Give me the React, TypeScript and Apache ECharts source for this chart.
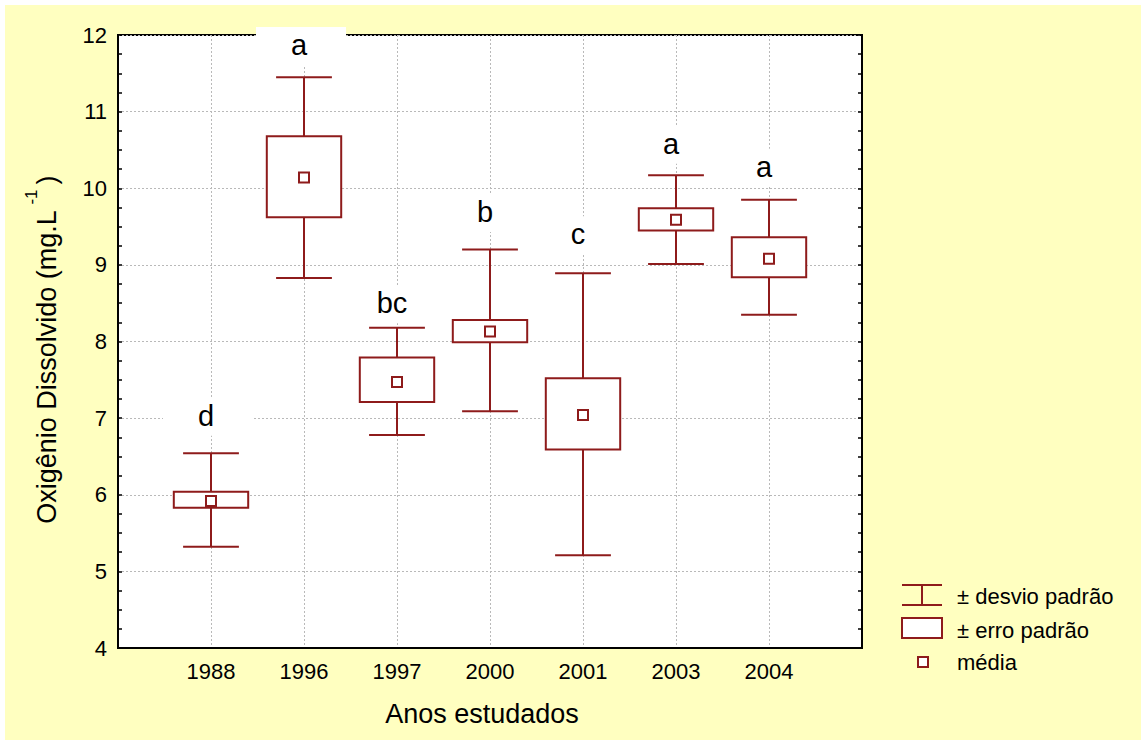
import React, { useEffect, useRef } from "react";
import * as echarts from "echarts";

// ---- data ----
const categories = ["1988", "1996", "1997", "2000", "2001", "2003", "2004"];
const means = [5.92, 10.14, 7.47, 8.13, 7.04, 9.59, 9.08];
const seLow = [5.83, 9.62, 7.21, 7.99, 6.59, 9.45, 8.84];
const seHigh = [6.04, 10.68, 7.79, 8.28, 7.52, 9.74, 9.36];
const sdLow = [5.32, 8.83, 6.78, 7.09, 5.21, 9.01, 8.35];
const sdHigh = [6.54, 11.45, 8.18, 9.2, 8.89, 10.17, 9.85];
const groupLetters = ["d", "a", "bc", "b", "c", "a", "a"];
const letterLevels = [7.03, 11.87, 8.5, 9.69, 9.4, 10.58, 10.28];
const yMin = 4;
const yMax = 12;
const legendLabels = ["± desvio padrão", "± erro padrão", "média"];
const xTitle = "Anos estudados";
const yTitle = "Oxigênio Dissolvido (mg.L";

const LINE = "#8E1B1B";
const FONT = "'Liberation Sans', Arial, Helvetica, sans-serif";
const GRIDC = "#b9b9b9";

export default function App() {
  const ref = useRef<HTMLDivElement>(null);

  useEffect(() => {
    if (!ref.current) return;
    const chart = echarts.init(ref.current, undefined, { renderer: "svg" });

    const boxData = categories.map((_, i) => [
      i + 1,
      sdLow[i],
      seLow[i],
      means[i],
      seHigh[i],
      sdHigh[i],
    ]);
    const letterData = categories.map((_, i) => [i + 1, letterLevels[i]]);

    const yAxisCommon = {
      type: "value",
      min: yMin,
      max: yMax,
      interval: 1,
      axisLine: { show: true, onZero: false, lineStyle: { color: "#000", width: 2 } },
      axisTick: { show: true, inside: true, length: 4, lineStyle: { color: "#000", width: 1.5 } },
      minorTick: { show: true, splitNumber: 4, length: 4, lineStyle: { color: "#000", width: 1.5 } },
    };

    const option: any = {
      animation: false,
      backgroundColor: "transparent",
      grid: {
        left: 118,
        top: 35,
        right: 279,
        bottom: 92,
        show: true,
        backgroundColor: "#fff",
        borderColor: "#000",
        borderWidth: 2,
      },
      xAxis: {
        type: "value",
        min: 0,
        max: categories.length + 1,
        interval: 1,
        axisLine: { show: true, onZero: false, lineStyle: { color: "#000", width: 2 } },
        axisTick: { show: false },
        axisLabel: {
          margin: 12,
          fontSize: 22,
          color: "#000",
          fontFamily: FONT,
          formatter: (v: number) => categories[v - 1] ?? "",
        },
        splitLine: { show: true, lineStyle: { color: GRIDC, type: [2, 2], width: 1 } },
      },
      yAxis: [
        {
          ...yAxisCommon,
          position: "left",
          axisLabel: { margin: 11, fontSize: 22, color: "#000", fontFamily: FONT },
          splitLine: { show: true, lineStyle: { color: GRIDC, type: [2, 2], width: 1 } },
        },
        {
          ...yAxisCommon,
          position: "right",
          axisLabel: { show: false },
          splitLine: { show: false },
        },
      ],
      series: [
        {
          type: "custom",
          silent: true,
          clip: false,
          encode: { x: 0, y: [1, 2, 3, 4, 5] },
          data: boxData,
          renderItem: (params: any, api: any) => {
            const x = api.value(0);
            const c = (v: number) => api.coord([x, v]);
            const [cx, yMean] = c(api.value(3));
            const ySdLow = c(api.value(1))[1];
            const ySeLow = c(api.value(2))[1];
            const ySeHigh = c(api.value(4))[1];
            const ySdHigh = c(api.value(5))[1];
            const halfBox = api.size([0.4, 0])[0];
            const halfCap = api.size([0.3, 0])[0];
            const st = { stroke: LINE, lineWidth: 2, fill: null };
            return {
              type: "group",
              children: [
                { type: "line", shape: { x1: cx, y1: ySdHigh, x2: cx, y2: ySeHigh }, style: st },
                { type: "line", shape: { x1: cx, y1: ySeLow, x2: cx, y2: ySdLow }, style: st },
                { type: "line", shape: { x1: cx - halfCap, y1: ySdHigh, x2: cx + halfCap, y2: ySdHigh }, style: st },
                { type: "line", shape: { x1: cx - halfCap, y1: ySdLow, x2: cx + halfCap, y2: ySdLow }, style: st },
                {
                  type: "rect",
                  shape: { x: cx - halfBox, y: ySeHigh, width: 2 * halfBox, height: ySeLow - ySeHigh },
                  style: { stroke: LINE, lineWidth: 2, fill: "#fff" },
                },
                {
                  type: "rect",
                  shape: { x: cx - 5, y: yMean - 5, width: 10, height: 10 },
                  style: { stroke: LINE, lineWidth: 2, fill: "#fff" },
                },
              ],
            };
          },
        },
        {
          type: "custom",
          silent: true,
          clip: false,
          encode: { x: 0, y: 1 },
          data: letterData,
          renderItem: (params: any, api: any) => {
            const [cx, cy] = api.coord([api.value(0), api.value(1)]);
            return {
              type: "group",
              children: [
                {
                  type: "rect",
                  shape: { x: cx - 48, y: cy - 18, width: 90, height: 38 },
                  style: { fill: "#fff", stroke: null },
                },
                {
                  type: "text",
                  x: cx - 5,
                  y: cy,
                  style: {
                    text: groupLetters[params.dataIndex],
                    fontSize: 29,
                    fontFamily: FONT,
                    fill: "#000",
                    align: "center",
                    verticalAlign: "middle",
                  },
                },
              ],
            };
          },
        },
      ],
      graphic: [
        {
          type: "text",
          x: 482,
          y: 714,
          style: { text: xTitle, fontSize: 27, fontFamily: FONT, fill: "#000", align: "center", verticalAlign: "middle" },
        },
        {
          type: "text",
          x: 47,
          y: 367,
          rotation: Math.PI / 2,
          style: { text: yTitle, fontSize: 27, fontFamily: FONT, fill: "#000", align: "center", verticalAlign: "middle" },
        },
        {
          type: "text",
          x: 31,
          y: 197,
          rotation: Math.PI / 2,
          style: { text: "-1", fontSize: 17, fontFamily: FONT, fill: "#000", align: "center", verticalAlign: "middle" },
        },
        {
          type: "text",
          x: 47,
          y: 180,
          rotation: Math.PI / 2,
          style: { text: ")", fontSize: 27, fontFamily: FONT, fill: "#000", align: "center", verticalAlign: "middle" },
        },
        // legend: whisker icon
        { type: "line", shape: { x1: 902, y1: 585, x2: 942, y2: 585 }, style: { stroke: LINE, lineWidth: 2 } },
        { type: "line", shape: { x1: 902, y1: 605, x2: 942, y2: 605 }, style: { stroke: LINE, lineWidth: 2 } },
        { type: "line", shape: { x1: 922, y1: 585, x2: 922, y2: 605 }, style: { stroke: LINE, lineWidth: 2 } },
        // legend: box icon
        { type: "rect", shape: { x: 902, y: 618, width: 40, height: 20 }, style: { stroke: LINE, lineWidth: 2, fill: "#fff" } },
        // legend: mean icon
        { type: "rect", shape: { x: 918, y: 657, width: 10, height: 10 }, style: { stroke: LINE, lineWidth: 2, fill: "#fff" } },
        ...legendLabels.map((t, i) => ({
          type: "text",
          x: 957,
          y: [596, 630, 662][i],
          style: { text: t, fontSize: 22, fontFamily: FONT, fill: "#000", align: "left", verticalAlign: "middle" },
        })),
      ],
    };

    chart.setOption(option);
    return () => chart.dispose();
  }, []);

  return (
    <div style={{ position: "fixed", left: 0, top: 0, width: 1141, height: 740, background: "#fff" }}>
      <div
        style={{ position: "absolute", left: 5, top: 5, width: 1136, height: 735, background: "#FFFFC0" }}
      />
      <div ref={ref} style={{ position: "absolute", left: 0, top: 0, width: 1141, height: 740 }} />
    </div>
  );
}
